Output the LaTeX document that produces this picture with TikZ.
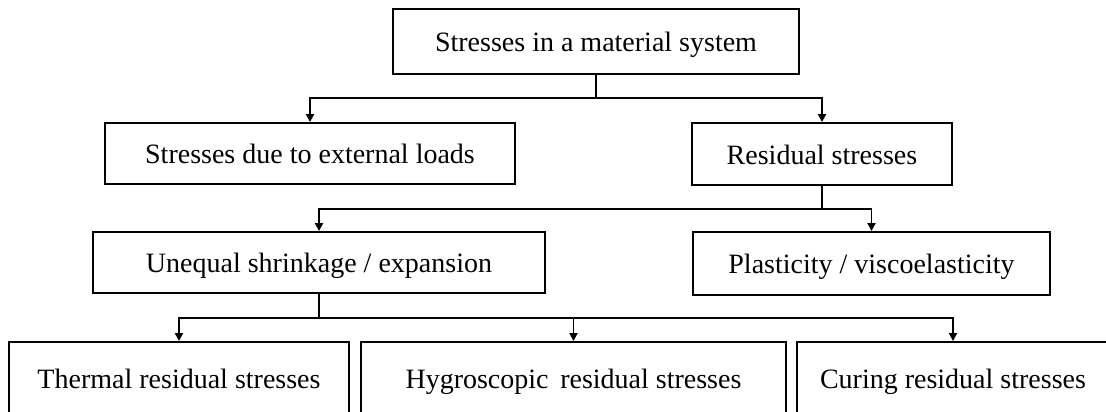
\documentclass[tikz,border=0pt]{standalone}
\usepackage{fontspec}
\setmainfont{Liberation Serif}
\usetikzlibrary{arrows.meta}
\tikzset{
  box/.style={draw=black, line width=1.9pt, fill=white, inner sep=0pt,
    text height=26pt, text depth=6pt,
    font=\fontsize{28}{32}\selectfont, text=black},
  link/.style={draw=black, line width=1.9pt},
  arr/.style={link, -{Triangle[length=8pt,width=8pt]}}
}
\begin{document}
\begin{tikzpicture}[x=1pt,y=-1pt]
\useasboundingbox (0,0) rectangle (1106,412);
\clip (0,0) rectangle (1106,412);
\fill[white] (0,0) rectangle (1106,412);
\node[box, minimum width=406pt, minimum height=65pt] (top) at (596,41.5) {Stresses in a material system};
\node[box, minimum width=410pt, minimum height=61pt] (ext) at (310,153.5) {Stresses due to external loads};
\node[box, minimum width=260pt, minimum height=62pt] (res) at (822,154) {Residual stresses};
\node[box, minimum width=452pt, minimum height=61pt] (une) at (319,262.5) {Unequal shrinkage / expansion};
\node[box, minimum width=357pt, minimum height=63pt] (pla) at (871.5,263.5) {Plasticity / viscoelasticity};
\node[box, minimum width=340pt, minimum height=72pt] (the) at (179,378) {Thermal residual stresses};
\node[box, minimum width=425pt, minimum height=72pt] (hyg) at (573.5,378) {Hygroscopic\, residual stresses};
\node[box, minimum width=312pt, minimum height=72pt] (cur) at (953,378) {Curing residual stresses};
\coordinate (j1) at (596,98);
\coordinate (j2) at (822,209);
\coordinate (j3) at (319,318);
\draw[link] (top.south) -- (j1);
\draw[arr] (j1) -| (ext.north);
\draw[arr] (j1) -| (res.north);
\draw[link] (res.south) -- (j2);
\draw[arr] (j2) -| (une.north);
\draw[arr] (j2) -| (pla.north);
\draw[link] (une.south) -- (j3);
\draw[arr] (j3) -| (the.north);
\draw[arr] (j3) -| (hyg.north);
\draw[arr] (j3) -| (cur.north);
\end{tikzpicture}
\end{document}
